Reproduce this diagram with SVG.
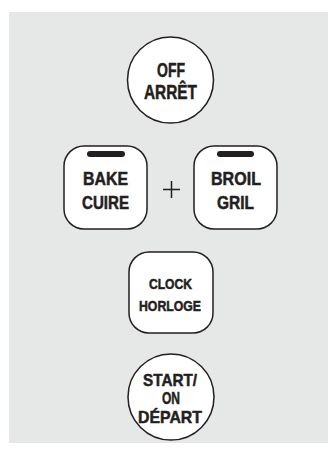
<svg xmlns="http://www.w3.org/2000/svg" width="328" height="465" viewBox="0 0 328 465">
<style>
.btn{fill:#fff;stroke:#231f20;stroke-width:1.5}
.lbl{font-family:"Liberation Sans",Arial,sans-serif;font-weight:bold;fill:#231f20;stroke:#231f20;stroke-width:0.5;text-anchor:middle}
.bar{stroke:#231f20;stroke-width:6;stroke-linecap:round}
</style>
<rect x="9" y="12" width="319" height="431" fill="#e6e7e7"/>
<g id="off">
<circle class="btn" cx="170.5" cy="80" r="43"/>
<text class="lbl" x="171" y="77" font-size="19.5" textLength="28" lengthAdjust="spacingAndGlyphs">OFF</text>
<text class="lbl" x="170.5" y="99" font-size="19.5" textLength="53" lengthAdjust="spacingAndGlyphs">ARRÊT</text>
</g>
<g id="bake">
<rect class="btn" x="64" y="146" width="83" height="83" rx="20"/>
<line class="bar" x1="90" y1="154" x2="122" y2="154"/>
<text class="lbl" x="105.5" y="185" font-size="17.5" textLength="45" lengthAdjust="spacingAndGlyphs">BAKE</text>
<text class="lbl" x="105.5" y="209" font-size="17.5" textLength="47" lengthAdjust="spacingAndGlyphs">CUIRE</text>
</g>
<g id="plus">
<path d="M163 189.5H180M171.5 181V198" stroke="#231f20" stroke-width="1.5" fill="none"/>
</g>
<g id="broil">
<rect class="btn" x="194" y="146" width="83" height="83" rx="20"/>
<line class="bar" x1="220" y1="154" x2="251" y2="154"/>
<text class="lbl" x="236" y="185" font-size="17.5" textLength="50" lengthAdjust="spacingAndGlyphs">BROIL</text>
<text class="lbl" x="235.5" y="209" font-size="17.5" textLength="37" lengthAdjust="spacingAndGlyphs">GRIL</text>
</g>
<g id="clock">
<rect class="btn" x="129" y="252" width="84" height="81" rx="20"/>
<text class="lbl" x="170.5" y="289" font-size="14" textLength="43" lengthAdjust="spacingAndGlyphs">CLOCK</text>
<text class="lbl" x="170" y="311" font-size="14" textLength="62" lengthAdjust="spacingAndGlyphs">HORLOGE</text>
</g>
<g id="start">
<circle class="btn" cx="171" cy="397" r="43"/>
<text class="lbl" x="170" y="385.5" font-size="17" textLength="54" lengthAdjust="spacingAndGlyphs">START/</text>
<text class="lbl" x="171" y="403.5" font-size="17" textLength="18" lengthAdjust="spacingAndGlyphs">ON</text>
<text class="lbl" x="170" y="423" font-size="17" textLength="64" lengthAdjust="spacingAndGlyphs">DÉPART</text>
</g>
<g id="connectors"></g>
</svg>
